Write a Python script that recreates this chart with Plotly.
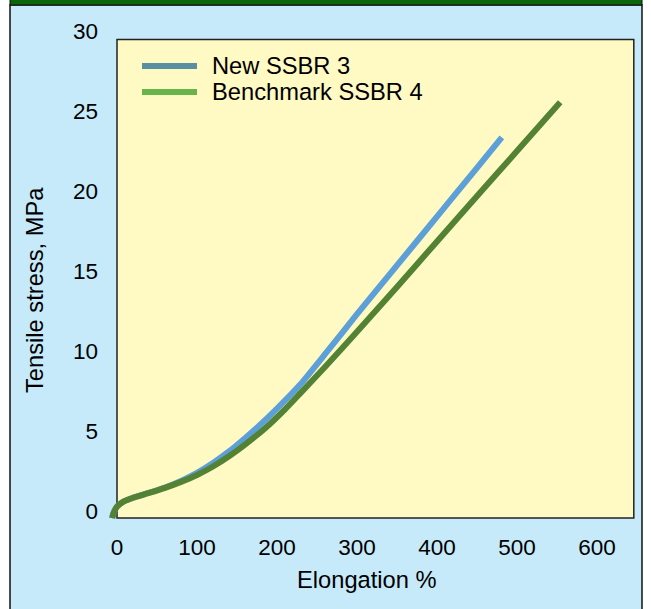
import plotly.graph_objects as go

# ---- data ----
series_names = ["New SSBR 3", "Benchmark SSBR 4"]

new_x = [-6, -4.5, 0, 8, 20, 40, 60, 80, 100, 120, 140, 160, 177, 200, 229, 260, 300, 350, 400, 450, 481]
new_y = [-0.45, -0.15, 0.27, 0.58, 0.83, 1.14, 1.47, 1.88, 2.38, 3.0, 3.72, 4.55, 5.3, 6.4, 7.9, 9.8, 12.3, 15.35, 18.4, 21.45, 23.35]

bench_x = [-6, -4.5, 0, 8, 20, 40, 60, 80, 100, 120, 140, 160, 187, 210, 229, 260, 300, 350, 400, 454, 500, 554]
bench_y = [-0.45, -0.15, 0.27, 0.58, 0.83, 1.13, 1.45, 1.82, 2.25, 2.78, 3.42, 4.15, 5.25, 6.35, 7.35, 9.0, 11.2, 14.0, 16.85, 19.9, 22.5, 25.55]

x_ticks = [0, 100, 200, 300, 400, 500, 600]
y_ticks = [0, 5, 10, 15, 20, 25, 30]

line_colors = ["#5DA0D8", "#548235"]
legend_colors = ["#5A8FA3", "#6AB44C"]

FONT = "Liberation Sans, Arial, Helvetica, sans-serif"

W, H = 651, 609
L, R, T, B = 109, 14, 21, 78
PW, PH = W - L - R, H - T - B


def px_x(p):
    return (p - L) / PW


def px_y(p):
    return (H - B - p) / PH


fig = go.Figure()
fig.add_trace(go.Scatter(x=new_x, y=new_y, mode="lines", name=series_names[0],
                         line=dict(color=line_colors[0], width=6, shape="spline", smoothing=0.5),
                         showlegend=False, hoverinfo="skip"))
fig.add_trace(go.Scatter(x=bench_x, y=bench_y, mode="lines", name=series_names[1],
                         line=dict(color=line_colors[1], width=6, shape="spline", smoothing=0.5),
                         showlegend=False, hoverinfo="skip"))

shapes = [
    # light blue panel with frame
    dict(type="rect", xref="paper", yref="paper", x0=px_x(10), x1=px_x(642), y0=px_y(625), y1=px_y(5),
         fillcolor="#C6EAF9", line=dict(color="#111111", width=1.5), layer="below"),
    # dark green top band
    dict(type="rect", xref="paper", yref="paper", x0=px_x(10), x1=px_x(642), y0=px_y(5), y1=px_y(-3),
         fillcolor="#0B650B", line=dict(color="#111111", width=1), layer="below"),
    # yellow plot box
    dict(type="rect", xref="x", yref="y", x0=0, x1=646, y0=-0.44, y1=29.47,
         fillcolor="#FFF9C4", line=dict(color="#222222", width=1.5), layer="below"),
]

TITLE_SIZE = 23.7
annotations = [
    dict(text="Elongation %", xref="paper", yref="paper", x=px_x(367), y=px_y(580),
         xanchor="center", yanchor="middle", showarrow=False,
         font=dict(family=FONT, size=TITLE_SIZE, color="#000")),
    dict(text="Tensile stress, MPa", xref="paper", yref="paper", x=px_x(35), y=px_y(290),
         xanchor="center", yanchor="middle", textangle=-90, showarrow=False,
         font=dict(family=FONT, size=TITLE_SIZE, color="#000")),
]

# manual legend
leg_y = [66, 92]
for name, col, yy in zip(series_names, legend_colors, leg_y):
    shapes.append(dict(type="line", xref="paper", yref="paper", x0=px_x(142), x1=px_x(197),
                       y0=px_y(yy), y1=px_y(yy), line=dict(color=col, width=6)))
    annotations.append(dict(text=name, xref="paper", yref="paper", x=px_x(210), y=px_y(yy),
                            xanchor="left", yanchor="middle", showarrow=False,
                            font=dict(family=FONT, size=TITLE_SIZE, color="#000")))

fig.update_layout(
    width=W, height=H,
    margin=dict(l=L, r=R, t=T, b=B, pad=0),
    paper_bgcolor="#FFFFFF",
    plot_bgcolor="rgba(0,0,0,0)",
    shapes=shapes,
    annotations=annotations,
    showlegend=False,
    font=dict(family=FONT, size=22.5, color="#000"),
    xaxis=dict(range=[-10, 650], tickvals=x_ticks, ticktext=[str(v) for v in x_ticks],
               showgrid=False, zeroline=False, showline=False, ticks="",
               tickfont=dict(family=FONT, size=22.5, color="#000"), ticklabelstandoff=0),
    yaxis=dict(range=[-1.25, 30.625], tickvals=y_ticks, ticktext=[str(v) for v in y_ticks],
               showgrid=False, zeroline=False, showline=False, ticks="",
               tickfont=dict(family=FONT, size=22.5, color="#000"), ticklabelstandoff=10),
)

fig.write_html("out.html")
